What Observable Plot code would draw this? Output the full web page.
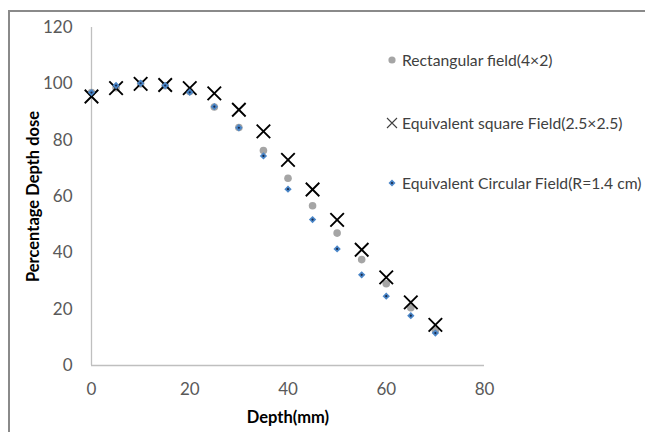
<!DOCTYPE html>
<html><head><meta charset="utf-8">
<script src="https://cdn.jsdelivr.net/npm/d3@7"></script>
<script src="https://cdn.jsdelivr.net/npm/@observablehq/plot@0.6"></script>
<style>
body{margin:0;background:#fff;}
#wrap{position:relative;width:645px;height:432px;overflow:hidden;font-family:Lato,"Open Sans",sans-serif;}
#border{position:absolute;left:8px;top:10px;width:650px;height:440px;border-top:2px solid #8a8a8a;border-left:2px solid #8a8a8a;pointer-events:none;}
#chart{position:absolute;left:0;top:0;}
#legend{position:absolute;left:0;top:0;}
.item{position:absolute;left:384px;height:20px;display:flex;align-items:center;font-size:15.7px;color:#404040;white-space:nowrap;}
.item svg{width:16px;height:16px;margin-right:2px;}
[aria-label="x-axis label"],[aria-label="y-axis label"]{font-weight:bold;fill:#000;font-size:16.5px;}
</style></head>
<body>
<div id="wrap"><div id="chart"></div><div id="legend"></div><div id="border"></div></div>
<script>
const depth = [0,5,10,15,20,25,30,35,40,45,50,55,60,65,70];
const rectField = [96.9,98.6,100.0,99.3,97.3,91.8,84.5,76.3,66.5,56.7,47.0,37.6,29.0,20.5,12.5];
const squareField = [95.5,98.5,100.0,99.6,98.5,96.6,90.8,83.1,73.0,62.5,51.7,41.1,31.3,22.4,14.4];
const circField = [96.9,99.4,100.2,99.4,97.0,91.9,84.4,74.4,62.6,51.8,41.4,32.2,24.6,17.7,11.5];
const xTicks = [0,20,40,60,80];
const yTicks = [0,20,40,60,80,100,120];
const seriesNames = ["Rectangular field(4\u00d72)","Equivalent square Field(2.5\u00d72.5)","Equivalent Circular Field(R=1.4 cm)"];

const rows = (vals) => depth.map((d,i)=>({depth:d, v:vals[i]}));

const chart = Plot.plot({
  width:645, height:432,
  marginLeft:91, marginRight:161, marginTop:27, marginBottom:67,
  style:{fontFamily:"Lato, 'Open Sans', sans-serif", fontSize:"17px", color:"#595959", background:"transparent"},
  x:{domain:[0,80]},
  y:{domain:[0,120]},
  marks:[
    Plot.ruleX([0],{stroke:"#bfbfbf", strokeWidth:1.3}),
    Plot.ruleY([0],{stroke:"#bfbfbf", strokeWidth:1.3}),
    Plot.axisX({ticks:xTicks, tickSize:0, tickPadding:17, label:"Depth(mm)", labelAnchor:"center", labelArrow:"none", labelOffset:57}),
    Plot.axisY({ticks:yTicks, tickSize:0, tickPadding:19, label:"Percentage Depth dose", labelAnchor:"center", labelArrow:"none", labelOffset:64}),
    Plot.dot(rows(rectField),{x:"depth", y:"v", r:3.8, fill:"#a5a5a5", stroke:"none"}),
    Plot.dot(rows(squareField),{x:"depth", y:"v", symbol:"times", r:6.2, stroke:"#000", strokeWidth:1.9}),
    Plot.dot(rows(circField),{x:"depth", y:"v", symbol:"diamond2", r:3.3, fill:"#4a86c8", stroke:"none"}),
    Plot.dot(rows(circField),{x:"depth", y:"v", r:1.1, fill:"#1a2a4a", stroke:"none"})
  ]
});
document.getElementById("chart").append(chart);

const markers = [
  '<svg viewBox="-8 -8 16 16"><circle r="3.6" fill="#a5a5a5"/></svg>',
  '<svg viewBox="-8 -8 16 16"><path d="M-5,-5L5,5M-5,5L5,-5" stroke="#404040" stroke-width="1.1"/></svg>',
  '<svg viewBox="-8 -8 16 16"><path d="M0,-3.5L3.5,0L0,3.5L-3.5,0Z" fill="#4a86c8"/><circle r="1.1" fill="#1a2a4a"/></svg>'
];
const tops = [50,113,173];
const leg = document.getElementById("legend");
seriesNames.forEach((n,i)=>{
  const d = document.createElement("div");
  d.className="item"; d.style.top = tops[i]+"px";
  d.innerHTML = markers[i] + '<span>'+n+'</span>';
  leg.append(d);
});
</script>
</body></html>
